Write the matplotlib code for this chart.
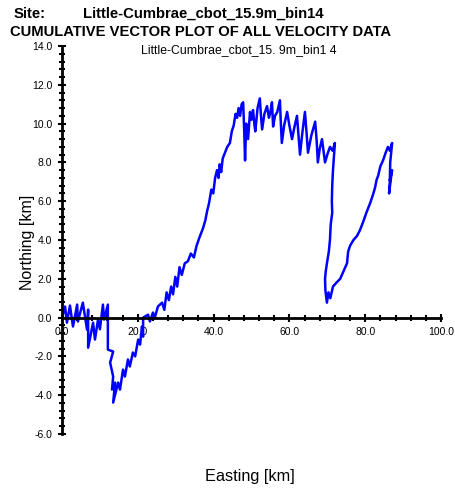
import matplotlib
matplotlib.use("Agg")
import matplotlib.pyplot as plt
from matplotlib.ticker import MultipleLocator, FormatStrFormatter

site = "Little-Cumbrae_cbot_15.9m_bin14"
title = "CUMULATIVE VECTOR PLOT OF ALL VELOCITY DATA"
subtitle = "Little-Cumbrae_cbot_15. 9m_bin1 4"

# cumulative displacement (km)
east = [0.0, 0.8, 1.3, 2.1, 2.9, 4.0, 4.2, 5.5, 6.6, 6.9, 6.9, 8.2, 8.7, 9.5, 10.0,
        10.8, 11.1, 12.1, 12.1, 12.1, 13.5, 12.7, 13.5, 13.2, 14.0, 13.5, 14.8, 15.3,
        16.1, 16.6, 17.4, 17.9, 18.7, 19.3, 20.1, 20.6, 21.1, 21.4, 21.4, 22.7, 23.2,
        24.0, 24.5, 25.3, 26.4,
        27.0, 27.6, 28.2, 28.8, 29.3, 29.9, 30.4, 31.0, 31.6, 32.4, 33.2, 34.0, 34.8,
        35.5, 36.4, 37.2, 37.8, 38.3, 38.8, 39.4, 39.9, 40.4, 40.9, 41.3, 41.6, 42.0,
        42.4, 43.0, 43.6, 44.3, 44.8, 45.3, 45.8, 46.2, 46.6, 47.0, 47.4, 47.8, 48.1,
        48.3, 48.6, 49.1, 49.6,
        50.0, 50.4, 50.8, 51.0, 51.6, 52.2, 52.5, 52.8, 53.4, 54.1, 54.6, 55.0, 55.4,
        55.7, 56.2, 56.8, 57.5, 57.7, 58.0, 58.6, 59.4, 60.0, 60.7, 61.3, 62.0, 62.4,
        62.8, 63.4, 64.1, 64.5, 64.9, 65.8, 66.8, 67.2, 67.5, 68.0, 68.6, 69.0, 69.4,
        70.0, 70.7, 71.4, 72.0,
        71.5, 71.3, 71.2, 71.3, 70.9, 70.7, 70.4, 69.9, 69.6, 69.4, 69.5, 69.9, 70.3,
        70.8, 71.5, 72.4, 73.4, 74.3, 75.2, 75.5, 76.0, 76.9, 77.8, 78.6, 79.4, 80.3,
        81.3, 82.0, 82.6, 83.0, 83.4, 84.0, 84.7, 85.4, 86.0, 86.5, 87.1, 86.6, 86.5,
        86.3, 86.8, 87.1, 86.5]
north = [0.0, 0.57, -0.26, 0.62, -0.46, 0.67, -0.2, 0.77, -0.62, 0.41, -1.55, -0.26,
         -1.13, -0.1, -0.6, 0.67, -0.1, 0.67, -0.46, -1.65, -1.75, -2.32, -3.04, -3.71,
         -3.35, -4.38, -3.35, -3.71, -2.68, -3.04, -2.16, -2.52, -1.8, -2.0, -1.13, -1.39,
         -0.46, -0.98, 0.0, 0.15, -0.2, 0.26, 0.0, 0.57, 0.77,
         0.4, 1.3, 0.9, 1.6, 1.2, 2.1, 1.6, 2.6, 2.2, 2.8, 2.9, 3.3, 3.1,
         3.7, 4.2, 4.6, 5.0, 5.5, 5.9, 6.6, 6.4, 7.2, 7.6, 7.2, 7.9, 7.5,
         8.2, 8.5, 8.8, 9.0, 9.6, 9.9, 10.5, 10.3, 10.8, 10.4, 11.0, 11.1, 9.5,
         8.1, 10.0, 9.2, 10.6,
         10.2, 10.7, 9.9, 9.6, 10.8, 11.3, 10.4, 9.7, 10.5, 10.9, 10.3, 10.6, 11.1,
         9.85, 10.4, 10.6, 11.2, 10.2, 9.0, 9.9, 10.6, 9.9, 9.2, 9.8, 10.4, 9.4,
         8.4, 9.5, 10.6, 9.6, 8.5, 9.4, 10.1, 9.1, 8.0, 8.7, 9.2, 8.6, 8.0,
         8.4, 8.8, 8.6, 9.0,
         7.6, 6.8, 6.0, 5.4, 4.8, 4.0, 3.4, 2.8, 2.4, 2.0, 1.4, 0.77, 1.3,
         1.0, 1.6, 1.8, 2.0, 2.4, 2.8, 3.4, 3.7, 4.0, 4.2, 4.5, 4.9, 5.4,
         5.9, 6.3, 6.7, 7.1, 7.3, 7.8, 8.1, 8.5, 8.8, 8.6, 9.0, 8.0, 7.0,
         6.4, 7.2, 7.6, 7.1]

plt.rcParams['font.family'] = ['Liberation Sans', 'DejaVu Sans']

fig = plt.figure(figsize=(4.56, 4.91), dpi=100)
ax = fig.add_axes([62/456, 1-434/491, (441-62)/456, (434-46)/491])

ax.plot(east, north, color='#0000ff', lw=1.8)

ax.set_xlim(0, 100)
ax.set_ylim(-6, 14)
ax.spines['left'].set_position(('data', 0))
ax.spines['bottom'].set_position(('data', 0))
ax.spines['top'].set_visible(False)
ax.spines['right'].set_visible(False)
for s in ('left', 'bottom'):
    ax.spines[s].set_linewidth(2)

ax.xaxis.set_major_locator(MultipleLocator(20))
ax.xaxis.set_minor_locator(MultipleLocator(4))
ax.yaxis.set_major_locator(MultipleLocator(2))
ax.yaxis.set_minor_locator(MultipleLocator(0.4))
ax.xaxis.set_major_formatter(FormatStrFormatter('%.1f'))
ax.yaxis.set_major_formatter(FormatStrFormatter('%.1f'))
ax.tick_params(which='both', direction='inout', width=1.5, labelsize=7.5, colors='black')
ax.tick_params(which='major', length=6, pad=4)
ax.tick_params(which='minor', length=5)

fig.text(14/456, 1-14/491, "Site:", fontsize=10.7, fontweight='bold', va='center')
fig.text(83/456, 1-14/491, site, fontsize=10.7, fontweight='bold', va='center')
fig.text(10/456, 1-32/491, title, fontsize=10.6, fontweight='bold', va='center')
fig.text(239/456, 1-50/491, subtitle, fontsize=8.8, ha='center', va='center')
fig.text(28/456, 1-242/491, "Northing [km]", fontsize=11.5, rotation=90, ha='center', va='center')
fig.text(250/456, 1-477/491, "Easting [km]", fontsize=11.7, ha='center', va='center')

fig.savefig("out.png", dpi=100)
